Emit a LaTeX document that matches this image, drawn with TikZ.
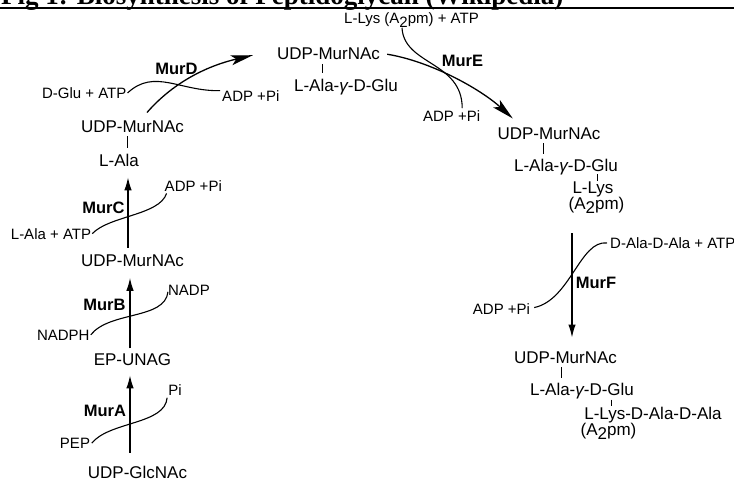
\documentclass[tikz,border=0pt]{standalone}
\usepackage{fontspec}
\setmainfont{Liberation Sans}
\newfontfamily\titlefont{Liberation Serif}
\usetikzlibrary{arrows.meta}
\newcommand{\Atwo}{A\raisebox{-0.45ex}{2}pm}
\newcommand{\gam}{{\itshape γ}}
\begin{document}
\begin{tikzpicture}[x=1pt, y=-1pt, >={Latex[length=13pt,width=7.5pt]}]
      \tikzstyle{cpd}=[inner sep=0pt, anchor=base, font=\fontsize{17}{19}\selectfont]
      \tikzstyle{sm}=[inner sep=0pt, anchor=base, font=\fontsize{15}{17}\selectfont]
      \tikzstyle{enz}=[inner sep=0pt, anchor=base, font=\fontsize{16.5}{18}\selectfont\bfseries]
      \tikzstyle{rxn}=[line width=1.3pt, ->]
      \tikzstyle{big}=[line width=1.3pt, -{Stealth[length=22pt,width=10pt,inset=5pt]}]
      \tikzstyle{side}=[line width=1.1pt]
      \tikzstyle{bar}=[line width=1pt]
      \useasboundingbox (0,0) rectangle (734,481);
      \clip (0,0) rectangle (734,481);
      % title and rule
      \node[anchor=base west, inner sep=0pt, font=\titlefont\bfseries\fontsize{27}{30}\selectfont] (title) at (1,5) {Fig 1: Biosynthesis of Peptidoglycan (Wikipedia)};
      \draw[line width=2pt] (0,8.3) -- (734,8.3);
      % left column
      \node[cpd] (glcnac) at (137.5,478) {UDP-GlcNAc};
      \node[cpd] (epunag) at (132.5,365) {EP-UNAG};
      \node[cpd] (udp2) at (132.5,266.5) {UDP-MurNAc};
      \node[cpd] (ala) at (119,167) {L-Ala};
      \node[cpd] (udp3) at (132.5,133) {UDP-MurNAc};
      \node[sm] (pep) at (75,448.3) {PEP};
      \node[sm] (pi) at (175,395) {Pi};
      \node[sm] (nadph) at (63.3,340) {NADPH};
      \node[sm] (nadp) at (189,295) {NADP};
      \node[sm] (latp) at (51,240) {L-Ala + ATP};
      \node[sm] (adpC) at (193.3,191.7) {ADP +Pi};
      \node[sm] (dglu) at (84.2,98.3) {D-Glu + ATP};
      \node[sm] (adpD) at (250.8,101.7) {ADP +Pi};
      \node[enz] (murA) at (105,416.7) {MurA};
      \node[enz] (murB) at (104.5,310) {MurB};
      \node[enz] (murC) at (103.5,213.3) {MurC};
      \node[enz] (murD) at (176.5,75) {MurD};
      % top and right column
      \node[cpd] (udp4) at (328.5,60) {UDP-MurNAc};
      \node[cpd] (glu4) at (346,92) {L-Ala-\gam-D-Glu};
      \node[sm] (lysatp) at (411.5,24) {L-Lys (\Atwo) + ATP};
      \node[sm] (adpE) at (451.7,121.7) {ADP +Pi};
      \node[enz] (murE) at (462.5,66.7) {MurE};
      \node[cpd] (udp5) at (549,140) {UDP-MurNAc};
      \node[cpd] (glu5) at (566,172) {L-Ala-\gam-D-Glu};
      \node[cpd] (lys5) at (593,193.5) {L-Lys};
      \node[cpd] (apm5) at (596.5,209.5) {(\Atwo)};
      \node[sm, anchor=base west] (dalaatp) at (610,248.3) {D-Ala-D-Ala + ATP};
      \node[sm] (adpF) at (501.5,315) {ADP +Pi};
      \node[enz] (murF) at (596,288) {MurF};
      \node[cpd] (udp6) at (565.5,363) {UDP-MurNAc};
      \node[cpd] (glu6) at (582,395.5) {L-Ala-\gam-D-Glu};
      \node[cpd] (lysdd) at (653,419) {L-Lys-D-Ala-D-Ala};
      \node[cpd] (apm6) at (608.5,435.7) {(\Atwo)};
      % bonds
      \coordinate (b3) at (127,0);
      \coordinate (b4) at (322,0);
      \coordinate (b5) at (543,0);
      \coordinate (b5g) at (597,0);
      \coordinate (b6) at (561,0);
      \coordinate (b6g) at (611,0);
      \draw[bar, shorten <=3.5pt, shorten >=6.5pt] (udp3.base -| b3) -- (ala.north -| b3);
      \draw[bar, shorten <=4pt, shorten >=6pt] (udp4.base -| b4) -- (glu4.north -| b4);
      \draw[bar, shorten <=3.5pt, shorten >=5.5pt] (udp5.base -| b5) -- (glu5.north -| b5);
      \draw[bar, shorten <=2.5pt, shorten >=0.5pt] (glu5.base -| b5g) -- (lys5.north -| b5g);
      \draw[bar, shorten <=4pt, shorten >=4.5pt] (udp6.base -| b6) -- (glu6.north -| b6);
      \draw[bar, shorten <=4pt, shorten >=0.8pt] (glu6.base -| b6g) -- (lysdd.north -| b6g);
      % main reactions
      \coordinate (cA) at (130,0);
      \coordinate (cC) at (128,0);
      \coordinate (cF) at (572,0);
      \draw[rxn, shorten <=12.6pt, shorten >=10pt] (glcnac.north -| cA) -- (epunag.south -| cA);
      \draw[rxn, shorten <=4.6pt, shorten >=11pt] (epunag.north -| cA) -- (udp2.south -| cA);
      \draw[rxn, shorten <=7pt, shorten >=10pt] (udp2.north -| cC) -- (ala.south -| cC);
      \draw[big] ([xshift=14.5pt,yshift=8.6pt]udp3.north) .. controls +(28,-32) and +(-43,10) .. ([xshift=-24pt,yshift=-1pt]udp4.west);
      \draw[big] ([xshift=7pt]udp4.east) .. controls +(43,7) and +(-33,-30) .. ([xshift=15.5pt,yshift=9.6pt]udp5.north west);
      \draw[rxn, shorten <=19.5pt, shorten >=13.6pt] (apm5.south -| cF) -- (udp6.north -| cF);
      % co-substrates
      \draw[side] ([xshift=1.5pt]pep.east) .. controls +(18,-22) and +(-2,27) .. ([xshift=-1pt,yshift=-2.5pt]pi.south west);
      \draw[side] ([xshift=1pt]nadph.east) .. controls +(19,-24) and +(-3,28) .. ([yshift=-2pt]nadp.west);
      \draw[side] ([xshift=1pt,yshift=1pt]latp.east) .. controls +(17,-18) and +(-7,22) .. ([xshift=2pt,yshift=-1.5pt]adpC.south west);
      \draw[side] ([xshift=1pt]dglu.east) .. controls +(27,-25) and +(-40,1) .. ([xshift=-2pt]adpD.north west);
      \draw[side] ([xshift=-9.5pt]lysatp.south) .. controls +(2,37.5) and +(0,-47) .. ([xshift=10.5pt,yshift=2.5pt]adpE.north);
      \draw[side] ([xshift=-3pt]dalaatp.west) .. controls +(-27,-3) and +(36,-7.6) .. ([xshift=4pt,yshift=2pt]adpF.east);
\end{tikzpicture}
\end{document}
